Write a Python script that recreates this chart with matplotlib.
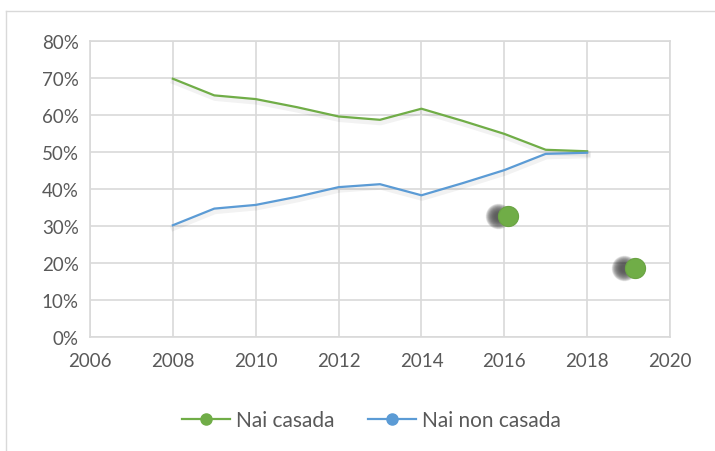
import matplotlib.pyplot as plt
import matplotlib.patheffects as pe
from matplotlib.lines import Line2D
from matplotlib.ticker import PercentFormatter

years = [2008, 2009, 2010, 2011, 2012, 2013, 2014, 2015, 2016, 2017, 2018]
nai_casada = [69.8, 65.3, 64.3, 62.1, 59.6, 58.7, 61.7, 58.4, 54.9, 50.6, 50.2]
nai_non_casada = [30.2, 34.7, 35.7, 37.9, 40.5, 41.3, 38.3, 41.6, 45.1, 49.5, 49.8]
# stray green points
dot_x = [2016.1, 2019.15]
dot_y = [32.7, 18.7]

green = '#70ad47'
blue = '#5b9bd5'
grid = '#d9d9d9'
txt = '#595959'

plt.rcParams['font.family'] = ['Lato', 'DejaVu Sans']

fig = plt.figure(figsize=(7.15, 4.52), dpi=100)
ax = fig.add_axes([90 / 715, 1 - 338 / 452, 580 / 715, 296 / 452])

shadow = [pe.SimpleLineShadow(offset=(0.5, -2.0), shadow_color='black', alpha=0.05, linewidth=4), pe.Normal()]
ax.plot(years, nai_casada, color=green, lw=1.6, path_effects=shadow, zorder=3)
ax.plot(years, nai_non_casada, color=blue, lw=1.6, path_effects=shadow, zorder=3)

# blurred shadows of the dots, offset to the left
for k in range(18):
    ax.scatter([x - 0.26 for x in dot_x], dot_y, s=340 - k * 18, color='#2a2a2a',
               alpha=0.07, linewidths=0, zorder=3)
ax.scatter(dot_x, dot_y, s=210, color=green, edgecolors='#6aa343', linewidths=0.8, zorder=4)

ax.set_xlim(2006, 2020)
ax.set_ylim(0, 80)
ax.set_xticks(range(2006, 2021, 2))
ax.set_yticks(range(0, 81, 10))
ax.yaxis.set_major_formatter(PercentFormatter(decimals=0))
ax.grid(True, color=grid, lw=1.2)
ax.set_axisbelow(True)
for s in ax.spines.values():
    s.set_color(grid)
    s.set_linewidth(1.2)
ax.tick_params(length=0, labelsize=13.5, colors=txt, pad=8)
ax.tick_params(axis='x', pad=11)

handles = [Line2D([], [], color=green, lw=1.6, marker='o', markersize=8, label='Nai casada'),
           Line2D([], [], color=blue, lw=1.6, marker='o', markersize=8, label='Nai non casada')]
fig.legend(handles=handles, loc='center', bbox_to_anchor=(0.52, 1 - 421 / 452), ncol=2,
           frameon=False, fontsize=15, labelcolor=txt, handlelength=2.3,
           columnspacing=1.6, handletextpad=0.3)

# outer chart border (partly cropped)
fig.add_artist(Line2D([6 / 715, 1], [1 - 12 / 452, 1 - 12 / 452], color=grid, lw=1.0))
fig.add_artist(Line2D([6 / 715, 6 / 715], [0, 1 - 12 / 452], color=grid, lw=1.0))

fig.savefig('out.png', dpi=100)
